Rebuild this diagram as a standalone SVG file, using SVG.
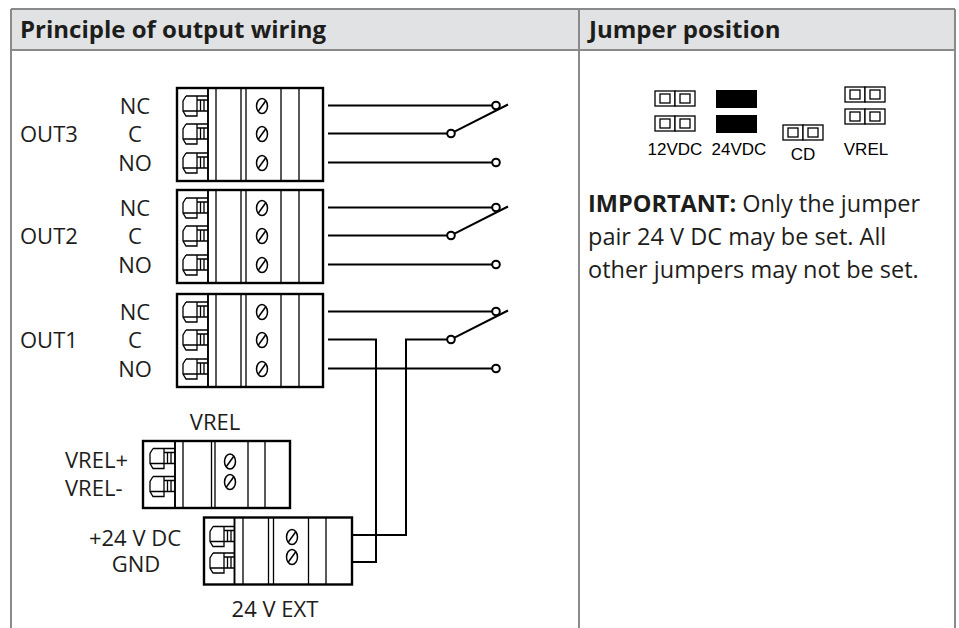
<svg xmlns="http://www.w3.org/2000/svg" width="959" height="628" viewBox="0 0 959 628">
<style>
.t{font-family:"Open Sans","Noto Sans",sans-serif;fill:#1d1d1b}
.s22{font-size:22px}
.s23{font-size:23.5px}
.s24{font-size:24px}
.b{font-weight:bold}
.m{text-anchor:middle}
.j{font-family:"Liberation Sans",Arial,sans-serif;font-size:17px;fill:#000;text-anchor:middle}
.box{fill:#fff;stroke:#000;stroke-width:2.4}
.ln{fill:none;stroke:#000;stroke-width:1.3}
.sc{fill:none;stroke:#000;stroke-width:1.5}
.ln2{fill:none;stroke:#000;stroke-width:1.9}
.w{fill:none;stroke:#000;stroke-width:2}
.pt{fill:#fff;stroke:#000;stroke-width:2}
.hd{fill:#fff;stroke:#000;stroke-width:1.3}
</style>
<defs>
<g id="clamp" class="ln"><path d="M9,-10H31M9,-10L6,-5V5L9,10H20V-10M6,5H31M20,-6H31M23.5,-6V5M27,-6V5"/></g>
<g id="screw" class="sc"><ellipse rx="5.5" ry="7.5"/><path d="M-3.8,5.3L3.8,-5.3"/></g>
<g id="hdr2"><rect width="20" height="15" class="hd"/><rect x="20" width="20" height="15" class="hd"/><rect x="5" y="3" width="10" height="9" class="hd"/><rect x="25" y="3" width="10" height="9" class="hd"/></g>
</defs>

<g id="table">
<rect x="11" y="9" width="944" height="41" fill="#e1e2e4"/>
<path d="M11,9H955M11,50H955M11,9V628M579,9V628M955,9V628" stroke="#8a8a8a" stroke-width="2" fill="none"/>
<text class="t b s24" x="20" y="38">Principle of output wiring</text>
<text class="t b s24" x="589" y="38">Jumper position</text>
</g>

<g id="out3">
<rect class="box" x="177" y="88" width="146" height="93"/>
<path class="ln2" d="M208,88V181"/>
<path class="ln" d="M216,88V181M241,88V181M246,88V181M281,88V181M299,88V181"/>
<use href="#clamp" x="177" y="106"/><use href="#clamp" x="177" y="134"/><use href="#clamp" x="177" y="163"/>
<use href="#screw" x="262" y="106"/><use href="#screw" x="262" y="134"/><use href="#screw" x="262" y="163"/>
<text class="t s22 m" x="135" y="113.5">NC</text>
<text class="t s22 m" x="135" y="141.5">C</text>
<text class="t s22 m" x="135" y="170.5">NO</text>
<text class="t s22" x="20" y="141.5">OUT3</text>
</g>

<g id="out2">
<rect class="box" x="177" y="190" width="146" height="93"/>
<path class="ln2" d="M208,190V283"/>
<path class="ln" d="M216,190V283M241,190V283M246,190V283M281,190V283M299,190V283"/>
<use href="#clamp" x="177" y="208"/><use href="#clamp" x="177" y="236"/><use href="#clamp" x="177" y="265"/>
<use href="#screw" x="262" y="208"/><use href="#screw" x="262" y="236"/><use href="#screw" x="262" y="265"/>
<text class="t s22 m" x="135" y="215.5">NC</text>
<text class="t s22 m" x="135" y="243.5">C</text>
<text class="t s22 m" x="135" y="272.5">NO</text>
<text class="t s22" x="20" y="243.5">OUT2</text>
</g>

<g id="out1">
<rect class="box" x="177" y="294" width="146" height="93"/>
<path class="ln2" d="M208,294V387"/>
<path class="ln" d="M216,294V387M241,294V387M246,294V387M281,294V387M299,294V387"/>
<use href="#clamp" x="177" y="312"/><use href="#clamp" x="177" y="340"/><use href="#clamp" x="177" y="369"/>
<use href="#screw" x="262" y="312"/><use href="#screw" x="262" y="340"/><use href="#screw" x="262" y="369"/>
<text class="t s22 m" x="135" y="319.5">NC</text>
<text class="t s22 m" x="135" y="347.5">C</text>
<text class="t s22 m" x="135" y="376.5">NO</text>
<text class="t s22" x="20" y="347.5">OUT1</text>
</g>

<g id="vrel">
<rect class="box" x="143" y="441" width="147" height="67"/>
<path class="ln2" d="M175,441V508"/>
<path class="ln" d="M183,441V508M211.5,441V508M215,441V508M248,441V508M265,441V508"/>
<use href="#clamp" x="144" y="458.5"/><use href="#clamp" x="144" y="486.5"/>
<use href="#screw" x="230" y="461.5"/><use href="#screw" x="230" y="482"/>
<text class="t s22 m" x="215" y="430">VREL</text>
<text class="t s22" x="65" y="468">VREL+</text>
<text class="t s22" x="65" y="496">VREL-</text>
</g>

<g id="ext24">
<rect class="box" x="204" y="517.5" width="148" height="67"/>
<path class="ln2" d="M234.5,517.5V584.5"/>
<path class="ln" d="M243,517.5V584.5M268.5,517.5V584.5M273.5,517.5V584.5M308.5,517.5V584.5M326,517.5V584.5"/>
<use href="#clamp" x="204" y="536.5"/><use href="#clamp" x="204" y="563"/>
<use href="#screw" x="292" y="537"/><use href="#screw" x="292" y="557"/>
<text class="t s22 m" x="135" y="546">+24 V DC</text>
<text class="t s22 m" x="136" y="572">GND</text>
<text class="t s22 m" x="275" y="617">24 V EXT</text>
</g>

<g id="connectors">
<path class="w" d="M328,105.5H492M328,133.5H447M328,162.5H492M454.5,131.7L508,104.5"/>
<circle class="pt" cx="496" cy="105.5" r="3.8"/><circle class="pt" cx="451" cy="133.5" r="3.8"/><circle class="pt" cx="496" cy="162.5" r="3.8"/>
<path class="w" d="M328,207.5H492M328,235.5H447M328,264.5H492M454.5,233.7L508,206.5"/>
<circle class="pt" cx="496" cy="207.5" r="3.8"/><circle class="pt" cx="451" cy="235.5" r="3.8"/><circle class="pt" cx="496" cy="264.5" r="3.8"/>
<path class="w" d="M328,311.5H492M328,368.5H492M454.5,337.7L508,310.5"/>
<path class="w" d="M328,339.5H376V562H352"/>
<path class="w" d="M352,535H406V339.5H447"/>
<circle class="pt" cx="496" cy="311.5" r="3.8"/><circle class="pt" cx="451" cy="339.5" r="3.8"/><circle class="pt" cx="496" cy="368.5" r="3.8"/>
</g>

<g id="jumpers">
<g id="j12"><use href="#hdr2" x="655" y="91"/><use href="#hdr2" x="655" y="116"/><text class="j" x="675" y="155">12VDC</text></g>
<g id="j24"><rect x="716" y="90" width="41" height="18" fill="#000"/><rect x="716" y="115" width="41" height="18" fill="#000"/><text class="j" x="739" y="155">24VDC</text></g>
<g id="jcd"><use href="#hdr2" x="783" y="125"/><text class="j" x="803" y="160">CD</text></g>
<g id="jvrel"><use href="#hdr2" x="845" y="87"/><use href="#hdr2" x="845" y="109"/><text class="j" x="866" y="155">VREL</text></g>
</g>

<g id="note">
<text class="t s23" x="588" y="212"><tspan class="b">IMPORTANT:</tspan> Only the jumper</text>
<text class="t s23" x="588" y="245">pair 24 V DC may be set. All</text>
<text class="t s23" x="588" y="278">other jumpers may not be set.</text>
</g>
</svg>
